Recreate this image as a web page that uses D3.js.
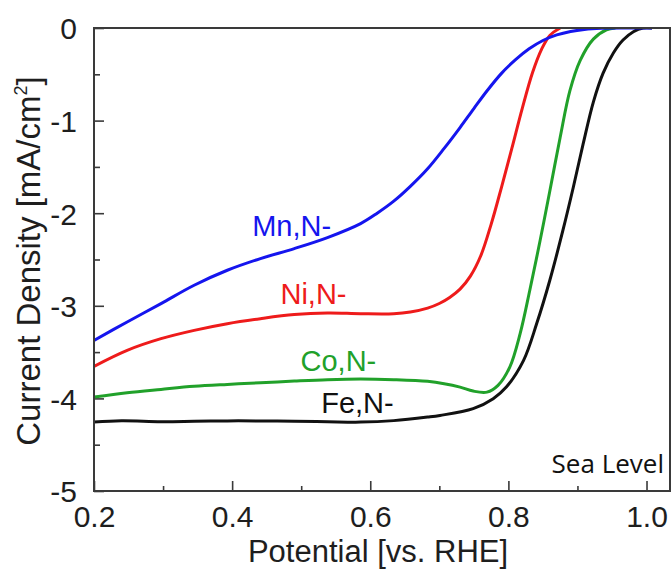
<!DOCTYPE html>
<html>
<head>
<meta charset="utf-8">
<script src="https://cdn.jsdelivr.net/npm/d3@7"></script>
<style>
  html, body { margin: 0; padding: 0; background: #fff; }
  svg { display: block; }
</style>
</head>
<body>
<svg id="chart" width="672" height="569"></svg>
<script>
// Linear sweep voltammetry curves (ORR) for M,N-doped carbons at sea level
const potentialFe = [0.200,0.240,0.297,0.345,0.393,0.441,0.490,0.538,0.586,0.634,0.683,0.701,0.749,0.778,0.797,0.822,0.841,0.860,0.879,0.894,0.908,0.923,0.937,0.952,0.966,0.981,0.995,1.008];
const currentFe   = [-4.256,-4.242,-4.252,-4.248,-4.243,-4.243,-4.247,-4.252,-4.256,-4.240,-4.202,-4.184,-4.111,-4.003,-3.878,-3.589,-3.192,-2.724,-2.184,-1.720,-1.260,-0.800,-0.490,-0.270,-0.130,-0.040,0,0];

const potentialCo = [0.200,0.248,0.297,0.345,0.393,0.441,0.490,0.538,0.586,0.634,0.683,0.707,0.730,0.749,0.769,0.785,0.802,0.817,0.831,0.846,0.860,0.875,0.889,0.904,0.923,0.942,0.955];
const currentCo   = [-3.986,-3.939,-3.903,-3.870,-3.849,-3.831,-3.813,-3.798,-3.791,-3.798,-3.816,-3.841,-3.878,-3.921,-3.932,-3.859,-3.662,-3.301,-2.832,-2.292,-1.760,-1.180,-0.680,-0.350,-0.120,-0.020,0];

const potentialNi = [0.200,0.248,0.297,0.345,0.393,0.441,0.490,0.538,0.586,0.634,0.658,0.683,0.700,0.715,0.730,0.745,0.760,0.775,0.790,0.805,0.820,0.835,0.848,0.860,0.875];
const currentNi   = [-3.654,-3.481,-3.355,-3.265,-3.193,-3.139,-3.095,-3.078,-3.085,-3.085,-3.067,-3.025,-2.975,-2.910,-2.820,-2.680,-2.460,-2.120,-1.720,-1.300,-0.870,-0.480,-0.230,-0.080,0];

const potentialMn = [0.200,0.248,0.297,0.345,0.393,0.441,0.490,0.538,0.586,0.610,0.634,0.658,0.683,0.707,0.730,0.750,0.770,0.790,0.810,0.830,0.850,0.870,0.890,0.910,0.935,0.970,1.008];
const currentMn   = [-3.373,-3.175,-2.976,-2.778,-2.616,-2.490,-2.382,-2.263,-2.112,-2.000,-1.870,-1.710,-1.520,-1.300,-1.075,-0.870,-0.670,-0.490,-0.345,-0.225,-0.135,-0.075,-0.037,-0.015,-0.003,0,0];

const seriesNames  = ["Fe,N-", "Co,N-", "Ni,N-", "Mn,N-"];
const seriesColors = ["#111111", "#21a12a", "#ee1b1b", "#1515ee"];

const xMajorTicks = [0.2, 0.4, 0.6, 0.8, 1.0];
const xMinorTicks = [0.3, 0.5, 0.7, 0.9];
const yMajorTicks = [0, -1, -2, -3, -4, -5];
const yMinorTicks = [-0.5, -1.5, -2.5, -3.5, -4.5];

const xTitle = "Potential [vs. RHE]";
const annotation = "Sea Level";

const svg = d3.select("#chart");
const plot = { left: 94, top: 28, right: 670, bottom: 491 };

const x = d3.scaleLinear().domain([0.2, 1.034]).range([plot.left, plot.right]);
const y = d3.scaleLinear().domain([-5, 0]).range([plot.bottom, plot.top]);

const font = "'Liberation Sans', Arial, Helvetica, sans-serif";
const axisColor = "#3a3a3a";

// x axis: major ticks with labels, minor ticks without
const xAxis = svg.append("g")
  .attr("transform", `translate(0,${plot.bottom})`)
  .call(d3.axisBottom(x).tickValues(xMajorTicks).tickSize(-10).tickPadding(15)
        .tickFormat(d => d.toFixed(1)));
svg.append("g")
  .attr("transform", `translate(0,${plot.bottom})`)
  .call(d3.axisBottom(x).tickValues(xMinorTicks).tickSize(-5).tickFormat(""));

// y axis (plain hyphen for negative labels)
const yAxis = svg.append("g")
  .attr("transform", `translate(${plot.left},0)`)
  .call(d3.axisLeft(y).tickValues(yMajorTicks).tickSize(-10).tickPadding(17)
        .tickFormat(d => String(d)));
svg.append("g")
  .attr("transform", `translate(${plot.left},0)`)
  .call(d3.axisLeft(y).tickValues(yMinorTicks).tickSize(-6).tickFormat(""));

svg.selectAll(".domain").remove();
svg.selectAll(".tick line").attr("stroke", axisColor).attr("stroke-width", 1.6);
svg.selectAll(".tick text")
  .attr("font-family", font)
  .attr("font-size", 30)
  .attr("fill", "#1e1e1e");
xAxis.selectAll(".tick text").attr("dy", "0.71em");
yAxis.selectAll(".tick text").attr("dy", "0.36em");

// curves
const curves = [
  potentialFe.map((v, i) => [v, currentFe[i]]),
  potentialCo.map((v, i) => [v, currentCo[i]]),
  potentialNi.map((v, i) => [v, currentNi[i]]),
  potentialMn.map((v, i) => [v, currentMn[i]])
];

const line = d3.line()
  .x(d => x(d[0]))
  .y(d => y(d[1]))
  .curve(d3.curveCatmullRom.alpha(0.5));

svg.append("clipPath").attr("id", "plot-clip")
  .append("rect")
  .attr("x", plot.left).attr("y", plot.top)
  .attr("width", plot.right - plot.left).attr("height", plot.bottom - plot.top);

svg.append("g")
  .attr("clip-path", "url(#plot-clip)")
  .selectAll("path")
  .data(curves)
  .join("path")
  .attr("d", line)
  .attr("fill", "none")
  .attr("stroke", (d, i) => seriesColors[i])
  .attr("stroke-width", 3)
  .attr("stroke-linejoin", "round");

// frame
svg.append("rect")
  .attr("x", plot.left).attr("y", plot.top)
  .attr("width", plot.right - plot.left)
  .attr("height", plot.bottom - plot.top)
  .attr("fill", "none")
  .attr("stroke", axisColor)
  .attr("stroke-width", 2);

// series labels placed beside their curves
const labelAnchors = [
  { potential: 0.5290, current: -4.16 },  // Fe,N-
  { potential: 0.4990, current: -3.70 },  // Co,N-
  { potential: 0.4700, current: -2.98 },  // Ni,N-
  { potential: 0.4290, current: -2.25 }   // Mn,N-
];
svg.append("g")
  .selectAll("text")
  .data(seriesNames)
  .join("text")
  .attr("x", (d, i) => x(labelAnchors[i].potential))
  .attr("y", (d, i) => y(labelAnchors[i].current))
  .attr("font-family", font)
  .attr("font-size", 29)
  .attr("fill", (d, i) => seriesColors[i])
  .text(d => d);

// axis titles
svg.append("text")
  .attr("x", 378)
  .attr("y", 562)
  .attr("text-anchor", "middle")
  .attr("font-family", font)
  .attr("font-size", 31)
  .attr("fill", "#1e1e1e")
  .text(xTitle);

const yTitle = svg.append("text")
  .attr("transform", "translate(40,261) rotate(-90)")
  .attr("text-anchor", "middle")
  .attr("font-family", font)
  .attr("font-size", 33)
  .attr("fill", "#1e1e1e");
yTitle.append("tspan").text("Current Density [mA/cm");
yTitle.append("tspan").attr("font-size", 18).attr("dy", -13).text("2");
yTitle.append("tspan").attr("dy", 13).text("]");

// condition annotation
svg.append("text")
  .attr("x", 664)
  .attr("y", 473)
  .attr("text-anchor", "end")
  .attr("font-family", "'Open Sans', 'Noto Sans', sans-serif")
  .attr("font-size", 26)
  .attr("fill", "#111")
  .text(annotation);
</script>
</body>
</html>
